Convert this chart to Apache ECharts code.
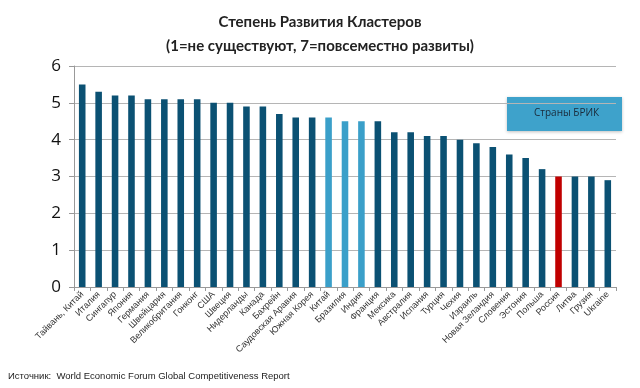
<!DOCTYPE html>
<html><head><meta charset="utf-8">
<script src="https://cdn.jsdelivr.net/npm/echarts@6/dist/echarts.min.js"></script>
<style>html,body{margin:0;padding:0;background:#fff}#c{width:640px;height:388px}</style>
</head><body><div id="c"></div>
<script>
const categories = ["Тайвань, Китай","Италия","Сингапур","Япония","Германия","Швейцария","Великобритания","Гонконг","США","Швеция","Нидерланды","Канада","Бахрейн","Саудовская Аравия","Южная Корея","Китай","Бразилия","Индия","Франция","Мексика","Австралия","Испания","Турция","Чехия","Израиль","Новая Зеландия","Словения","Эстония","Польша","Россия","Литва","Грузия","Ukraine"];
const values = [5.5,5.3,5.2,5.2,5.1,5.1,5.1,5.1,5.0,5.0,4.9,4.9,4.7,4.6,4.6,4.6,4.5,4.5,4.5,4.2,4.2,4.1,4.1,4.0,3.9,3.8,3.6,3.5,3.2,3.0,3.0,3.0,2.9];
const bricGroup = ["Китай","Бразилия","Индия"];
const highlight = ["Россия"];
const yTicks = [0,1,2,3,4,5,6];

const DARK = '#0b5173', LIGHT = '#3a9fc9', RED = '#c00000';
const chart = echarts.init(document.getElementById('c'), null, {renderer:'canvas'});
chart.setOption({
  animation:false,
  backgroundColor:'#fff',
  title:{
    text:'Степень Развития Кластеров\n(1=не существуют, 7=повсеместно развиты)',
    left:'center', top:5,
    textStyle:{fontFamily:'Lato', fontWeight:'bold', fontSize:15, lineHeight:24, color:'#222'}
  },
  grid:{left:74, right:24, top:66, bottom:101},
  xAxis:{
    type:'category', data:categories,
    axisLine:{lineStyle:{color:'#999'}},
    axisTick:{show:true, alignWithLabel:false, length:4, lineStyle:{color:'#999'}},
    axisLabel:{interval:0, rotate:45, fontSize:9, color:'#333', fontFamily:'Liberation Sans', margin:6}
  },
  yAxis:{
    type:'value', min:yTicks[0], max:yTicks[yTicks.length-1], interval:1,
    axisLine:{show:true, lineStyle:{color:'#999'}},
    axisTick:{show:true, length:5, lineStyle:{color:'#999'}},
    splitLine:{lineStyle:{color:'#b5b5b5', width:1}},
    axisLabel:{fontSize:17, color:'#111', fontFamily:'Open Sans', margin:13}
  },
  series:[{
    type:'bar', barCategoryGap:'60%',
    data: values.map((v,i)=>({value:v, itemStyle:{color: highlight.includes(categories[i]) ? RED : (bricGroup.includes(categories[i]) ? LIGHT : DARK)}}))
  }],
  graphic:[
    {type:'rect', left:507, top:97, shape:{width:115, height:34}, style:{fill:'#3ea2cb', shadowBlur:3, shadowColor:'rgba(0,0,0,0.25)', shadowOffsetY:1}},
    {type:'text', left:534, top:108, style:{text:'Страны БРИК', fontSize:10, fontFamily:'Open Sans', fill:'#1a2a3a'}},
    {type:'text', left:8, top:371, style:{text:'Источник:  World Economic Forum Global Competitiveness Report', fontSize:9.5, fontFamily:'Liberation Sans', fill:'#222'}}
  ]
});
</script></body></html>
